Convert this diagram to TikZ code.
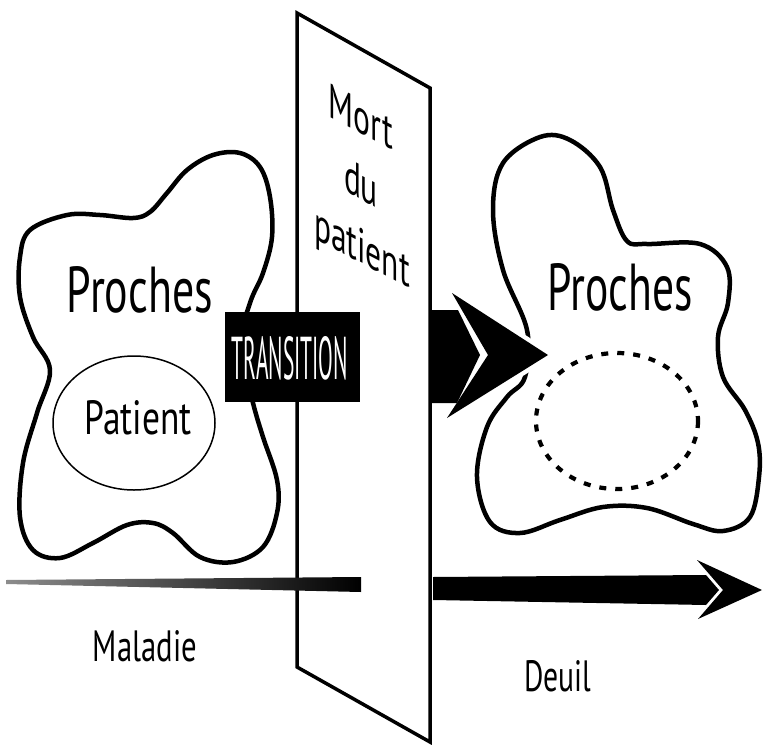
\documentclass[tikz,border=0pt]{standalone}
\usepackage{fontspec}
\setmainfont{PT Sans}
\newfontfamily\slfont[FakeStretch=0.65]{PT Sans}
\usepackage{graphicx}
\newcommand{\fitbox}[3]{\resizebox{#1pt}{#2pt}{#3}}
% vertical shear (y' = y - 0.52 x) built from rotate-scale-rotate
\newcommand{\sheared}[1]{\rotatebox[origin=c]{-52.3}{\scalebox{1.2933}[0.7732]{\rotatebox[origin=c]{37.7}{#1}}}}
\begin{document}
\begin{tikzpicture}[x=1pt,y=-1pt,
  blob/.style={line width=4.5pt, line join=round},
  plane/.style={line width=3.5pt, line join=miter, fill=white},
  txt/.style={inner sep=0pt, outer sep=0pt, anchor=center},
  slanttxt/.style={inner sep=0pt, outer sep=0pt, anchor=center,
     font=\slfont\fontsize{48.5}{50}\selectfont},
  solidarrow/.style={fill=black}]
\useasboundingbox[fill=white] (0,0) rectangle (764,745);

% left blob
\draw[blob] plot[smooth cycle, tension=0.6] coordinates {
 (30,230) (67,215) (100,215) (133,218) (150,212) (167,193) (187,170) (213,155)
 (240,153) (260,167) (270,197) (272,237) (263,273) (250,303) (240,347)
 (253,403) (263,437) (277,480) (277,513) (263,547) (233,562) (200,557)
 (173,533) (153,523) (127,525) (93,543) (60,558) (33,550) (20,517)
 (23,463) (37,413) (50,370) (33,337) (20,297) (20,257)};

% right blob
\draw[blob] plot[smooth cycle, tension=0.6] coordinates {
 (540,137) (570,140) (600,167) (613,210) (627,241) (647,244) (700,244)
 (727,267) (728,303) (718,337) (723,377) (745,410) (758,443) (759,477)
 (750,517) (723,531) (693,524) (647,508) (603,507) (560,520) (520,533)
 (490,522) (477,477) (487,427) (507,397) (525,377) (527,330) (503,270)
 (493,210) (503,163)};

% plane
\draw[plane] (297,13) coordinate (p1) -- (430,88) coordinate (p2)
  -- (430,742) coordinate (p3) -- (297,667) coordinate (p4) -- cycle;

% Maladie arrow
\shade[left color=black!45, middle color=black, right color=black]
  (6,580) -- (361,577) -- (361,592) -- (6,584) -- cycle;

% Patient ellipse
\draw[line width=1.5pt] (134,423) ellipse [x radius=81, y radius=67];
\node[txt] (patient) at (138,418) {\fitbox{107}{34}{Patient}};

% Proches labels
\node[txt] (prochesL) at (140,290) {\fitbox{146}{46}{Proches}};
\node[txt] (prochesR) at (620,287) {\fitbox{145}{47}{Proches}};

% TRANSITION box
\node[fill=black, minimum width=135pt, minimum height=90pt, inner sep=0pt]
  (trans) at (292.5,357) {};
\node[txt, text=white] (transtxt) at (290,358) {\fitbox{116}{43}{TRANSITION}};

% big arrow (head with white halo, then shaft)
\draw[white, line width=9pt, line join=round] (452,293) -- (548,355) -- (447,418) -- (488,355) -- cycle;
\fill[solidarrow] (452,293) -- (548,355) -- (447,418) -- (488,355) -- cycle;
\fill[solidarrow] (431,310) -- (458,310) -- (480,355) -- (457,403) -- (431,403) -- cycle;

% dashed ellipse
\draw[line width=4.2pt, dash pattern=on 7pt off 9pt] (617,421) ellipse [x radius=81, y radius=68];

% Deuil arrow
\fill[solidarrow] (433,577) -- (706,575) -- (719,590) -- (706,605) -- (433,600) -- cycle;
\fill[solidarrow] (697,560) -- (762,590) -- (698,619) -- (723,590) -- cycle;

% sheared text on the plane
\node[slanttxt] (mort) at (361,117) {\sheared{Mort}};
\node[slanttxt] (du) at (361,183) {\sheared{du}};
\node[slanttxt] (pat2) at (362,251) {\sheared{patient}};

% bottom labels
\node[txt] (maladie) at (145,646) {\fitbox{104}{31}{Maladie}};
\node[txt] (deuil) at (558,676) {\fitbox{67}{31}{Deuil}};
\end{tikzpicture}
\end{document}
